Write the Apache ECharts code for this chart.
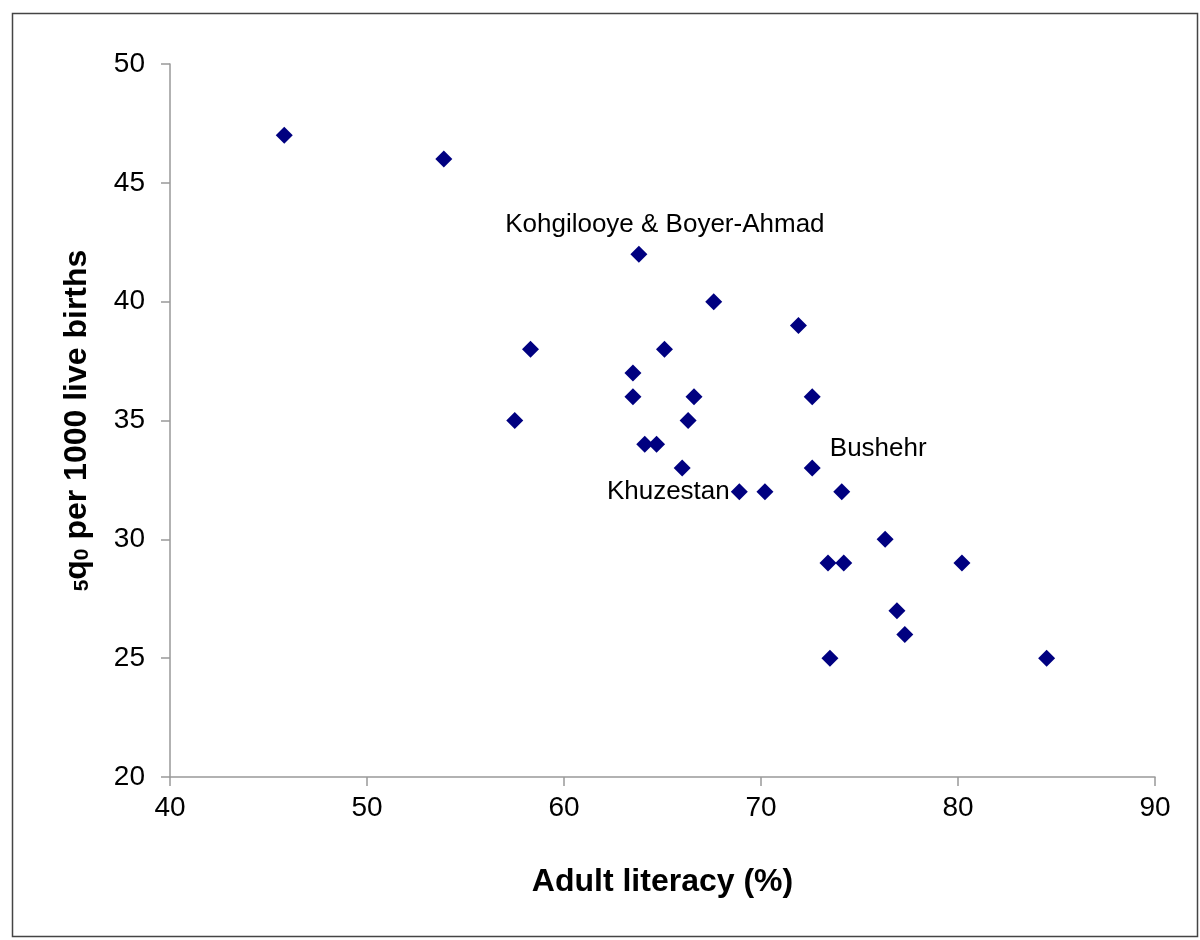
<!DOCTYPE html>
<html>
<head>
<meta charset="utf-8">
<script src="https://cdn.jsdelivr.net/npm/echarts@6/dist/echarts.min.js"></script>
<style>
html,body{margin:0;padding:0;background:#fff;}
#c{width:1200px;height:940px;}
</style>
</head>
<body>
<div id="c"></div>
<script>
// Adult literacy (%) per province
const literacy = [45.8, 53.9, 63.8, 67.6, 71.9, 58.3, 65.1, 63.5, 63.5, 66.6, 72.6, 57.5, 66.3, 64.1, 64.7, 66.0, 72.6, 68.9, 70.2, 74.1, 76.3, 73.4, 74.2, 80.2, 76.9, 77.3, 73.5, 84.5];
// 5q0 per 1000 live births
const q5 = [47, 46, 42, 40, 39, 38, 38, 37, 36, 36, 36, 35, 35, 34, 34, 33, 33, 32, 32, 32, 30, 29, 29, 29, 27, 26, 25, 25];
// Province labels (only labelled points)
const names = ['', '', 'Kohgilooye & Boyer-Ahmad', '', '', '', '', '', '', '', '', '', '', '', '', '', 'Bushehr', 'Khuzestan', '', '', '', '', '', '', '', '', '', ''];
const xTicks = [40, 50, 60, 70, 80, 90];
const yTicks = [20, 25, 30, 35, 40, 45, 50];

const font = 'Liberation Sans, Arial, sans-serif';
const labelOffsets = {
  'Kohgilooye & Boyer-Ahmad': [26, -29],
  'Bushehr': [66, -19],
  'Khuzestan': [-71, 0]
};

const data = literacy.map((x, i) => {
  const item = {value: [x, q5[i]], name: names[i]};
  if (names[i]) {
    item.label = {show: true, formatter: '{b}', position: 'inside', offset: labelOffsets[names[i]],
      color: '#000', fontSize: 26, fontFamily: font};
  }
  return item;
});

const chart = echarts.init(document.getElementById('c'));
chart.setOption({
  animation: false,
  backgroundColor: '#fff',
  graphic: [{
    type: 'rect', shape: {x: 12.5, y: 13.5, width: 1185, height: 923},
    style: {fill: 'none', stroke: '#444', lineWidth: 1.5}, silent: true
  }],
  grid: {left: 170, right: 45, top: 64, bottom: 163},
  xAxis: {
    type: 'value', min: xTicks[0], max: xTicks[xTicks.length - 1], interval: 10,
    name: 'Adult literacy (%)', nameLocation: 'middle', nameGap: 89,
    nameTextStyle: {fontSize: 32, fontWeight: 'bold', color: '#000', fontFamily: font},
    axisLine: {lineStyle: {color: '#999', width: 1.5}},
    axisTick: {show: true, length: 9, inside: false, lineStyle: {color: '#999', width: 1.5}},
    axisLabel: {fontSize: 28, color: '#000', margin: 17, fontFamily: font},
    splitLine: {show: false}
  },
  yAxis: {
    type: 'value', min: yTicks[0], max: yTicks[yTicks.length - 1], interval: 5,
    name: '{sub|5}{q|q}{sub|0}{q| per 1000 live births}', nameLocation: 'middle', nameGap: 77, nameRotate: 90,
    nameTextStyle: {
      fontSize: 32, fontWeight: 'bold', color: '#000', fontFamily: font,
      rich: {
        q: {fontSize: 32, fontWeight: 'bold', color: '#000', fontFamily: font, lineHeight: 36, verticalAlign: 'bottom'},
        sub: {fontSize: 21, fontWeight: 'bold', color: '#000', fontFamily: font, lineHeight: 36, verticalAlign: 'bottom', padding: [7, 0, 0, 0]}
      }
    },
    axisLine: {show: true, lineStyle: {color: '#999', width: 1.5}},
    axisTick: {show: true, length: 9, inside: false, lineStyle: {color: '#999', width: 1.5}},
    axisLabel: {fontSize: 28, color: '#000', margin: 25, fontFamily: font},
    splitLine: {show: false}
  },
  series: [{
    type: 'scatter',
    symbol: 'diamond',
    symbolSize: 17,
    itemStyle: {color: '#000080', opacity: 1},
    data: data
  }]
});
</script>
</body>
</html>
